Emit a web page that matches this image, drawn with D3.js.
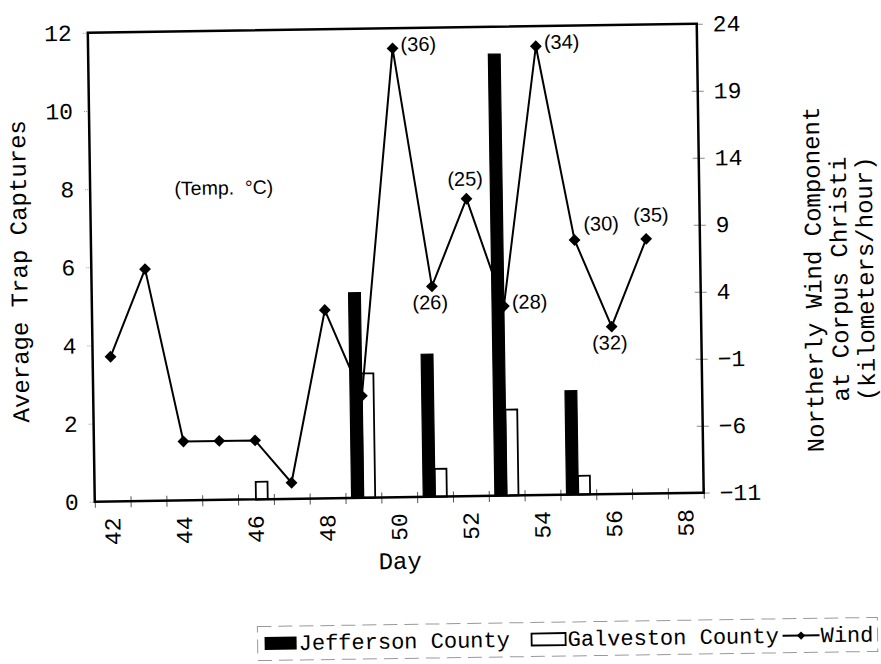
<!DOCTYPE html>
<html>
<head>
<meta charset="utf-8">
<script src="https://cdn.jsdelivr.net/npm/d3@7"></script>
<style>
    body { margin: 0; background: #fff; }
    svg { display: block; }
</style>
</head>
<body>
<div id="chartContainer"></div>
<script>
// categories (day) and the two trap-capture series, one value per day
const days = [42, 43, 44, 45, 46, 47, 48, 49, 50, 51, 52, 53, 54, 55, 56, 57, 58];
const jefferson = [0, 0, 0, 0, 0, 0, 0, 5.25, 0, 3.65, 0, 11.3, 0, 2.66, 0, 0, 0];
const galveston = [0, 0, 0, 0, 0.45, 0, 0, 3.18, 0, 0.71, 0, 2.2, 0, 0.48, 0, 0, 0];

// wind component (km/h) on the right axis
const windDays = [42, 43, 44, 45, 46, 47, 48, 49, 50, 51, 52, 53, 54, 55, 56, 57];
const wind = [-0.2, 6.3, -6.6, -6.6, -6.6, -9.8, 3.05, -3.4, 22.5, 4.7, 11.2, 3.15, 22.5, 8.0, 1.5, 8.0];

// temperature annotations (deg C)
const tempDays = [50, 51, 52, 53, 54, 55, 56, 57];
const temps = [36, 26, 25, 28, 34, 30, 32, 35];

const leftTicks = [0, 2, 4, 6, 8, 10, 12];
const rightTicks = [-11, -6, -1, 4, 9, 14, 19, 24];
const dayLabels = [42, 44, 46, 48, 50, 52, 54, 56, 58];

function init() {
    const width = 881;
    const height = 664;
    const margin = { top: 28.25, right: 180.75, bottom: 166.75, left: 91.25 };
    const x0 = margin.left, x1 = width - margin.right;
    const y0 = height - margin.bottom, y1 = margin.top;

    const mono = '"Liberation Mono", "Courier New", monospace';
    const sans = '"Liberation Sans", Arial, sans-serif';

    const svg = d3.select('#chartContainer')
        .append('svg')
        .attr('width', width)
        .attr('height', height)
        .attr('viewBox', `0 0 ${width} ${height}`)
        .style('background', '#fff');

    // the printed figure sits slightly tilted on the page
    const g = svg.append('g')
        .attr('transform', `rotate(-0.85, ${(x0 + x1) / 2}, ${(y0 + y1) / 2})`);

    const scX = d3.scaleBand().domain(days).range([x0, x1]).padding(0);
    const scTick = d3.scaleLinear().domain([41.5, 58.5]).range([x0, x1]);
    const scY = d3.scaleLinear().domain([0, 12]).range([y0, y1]);
    const scY2 = d3.scaleLinear().domain([-11, 24]).range([y0, y1]);

    const barW = 11.8;
    const scSeries = d3.scaleBand()
        .domain(['jefferson', 'galveston'])
        .range([scX.bandwidth() / 2 - barW, scX.bandwidth() / 2 + barW]);

    // bars
    const barData = days.map((d, i) => ({ day: d, jefferson: jefferson[i], galveston: galveston[i] }));

    g.append('g')
        .selectAll('rect')
        .data(barData.filter(d => d.galveston > 0))
        .enter()
        .append('rect')
        .attr('x', d => scX(d.day) + scSeries('galveston'))
        .attr('y', d => scY(d.galveston))
        .attr('width', scSeries.bandwidth())
        .attr('height', d => y0 - scY(d.galveston))
        .attr('fill', '#fff')
        .attr('stroke', '#000')
        .attr('stroke-width', 1.8);

    g.append('g')
        .selectAll('rect')
        .data(barData.filter(d => d.jefferson > 0))
        .enter()
        .append('rect')
        .attr('x', d => scX(d.day) + scSeries('jefferson'))
        .attr('y', d => scY(d.jefferson))
        .attr('width', scSeries.bandwidth())
        .attr('height', d => y0 - scY(d.jefferson))
        .attr('fill', '#000')
        .attr('stroke', '#000')
        .attr('stroke-width', 1.2);

    // wind line + diamonds
    const windData = windDays.map((d, i) => ({ day: d, value: wind[i] }));
    const cx = d => scX(d) + scX.bandwidth() / 2;

    const lineMaker = d3.line()
        .x(d => cx(d.day))
        .y(d => scY2(d.value));

    g.append('path')
        .attr('fill', 'none')
        .attr('stroke', '#000')
        .attr('stroke-width', 2)
        .attr('d', lineMaker(windData));

    const diamond = d3.symbol().type(d3.symbolSquare).size(70);
    g.append('g')
        .selectAll('path')
        .data(windData)
        .enter()
        .append('path')
        .attr('d', diamond)
        .attr('transform', d => `translate(${cx(d.day)},${scY2(d.value)}) rotate(45)`)
        .attr('fill', '#000');

    // temperature labels
    const place = {
        right: { dx: 8, dy: -2, anchor: 'start' },
        below: { dx: -2, dy: 18, anchor: 'middle' },
        above: { dx: -1, dy: -18, anchor: 'middle' },
        aboveR: { dx: 5, dy: -22, anchor: 'middle' },
        upright: { dx: 9, dy: -14, anchor: 'start' }
    };
    const tempPlace = { 50: 'right', 51: 'below', 52: 'above', 53: 'right', 54: 'right', 55: 'upright', 56: 'below', 57: 'aboveR' };

    g.append('g')
        .selectAll('text')
        .data(tempDays.map((d, i) => ({ day: d, t: temps[i] })))
        .enter()
        .append('text')
        .attr('x', d => cx(d.day) + place[tempPlace[d.day]].dx)
        .attr('y', d => scY2(wind[windDays.indexOf(d.day)]) + place[tempPlace[d.day]].dy + 5)
        .attr('text-anchor', d => place[tempPlace[d.day]].anchor)
        .style('font', `20px ${sans}`)
        .text(d => `(${d.t})`);

    g.append('text')
        .attr('x', 225)
        .attr('y', 192)
        .attr('text-anchor', 'middle')
        .style('font', `19.5px ${sans}`)
        .style('white-space', 'pre')
        .text('(Temp.  \u00B0C)');

    // ticks: left
    const yAxis = d3.axisLeft(scY).tickValues(leftTicks).tickSize(6).tickPadding(10);
    const gy = g.append('g').attr('transform', `translate(${x0},0)`).call(yAxis);
    gy.select('.domain').remove();
    gy.selectAll('.tick line').attr('stroke', '#999').attr('stroke-dasharray', '1,1');
    gy.selectAll('.tick text').style('font', `23px ${mono}`).attr('fill', '#000');

    // ticks: right
    const yAxis2 = d3.axisRight(scY2).tickValues(rightTicks).tickSize(6).tickPadding(10);
    const gy2 = g.append('g').attr('transform', `translate(${x1},0)`).call(yAxis2);
    gy2.select('.domain').remove();
    gy2.selectAll('.tick line').attr('x1', -6).attr('stroke', '#888');
    gy2.selectAll('.tick text').style('font', `23px ${mono}`).attr('fill', '#000');

    // ticks: bottom, marks at category boundaries
    const xTicks = d3.axisBottom(scTick).tickValues(d3.range(41.5, 59, 1)).tickSize(6).tickFormat('');
    const gx = g.append('g').attr('transform', `translate(0,${y0})`).call(xTicks);
    gx.select('.domain').remove();
    gx.selectAll('.tick line').attr('y1', -5).attr('stroke', '#555');

    const xAxis = d3.axisBottom(scX).tickValues(dayLabels).tickSize(0);
    const gx2 = g.append('g').attr('transform', `translate(0,${y0})`).call(xAxis);
    gx2.select('.domain').remove();
    gx2.selectAll('.tick text')
        .style('font', `23px ${mono}`)
        .attr('fill', '#000')
        .attr('text-anchor', 'end')
        .attr('transform', 'rotate(-90)')
        .attr('x', -16)
        .attr('y', 0)
        .attr('dy', '0.32em');

    // plot frame
    g.append('rect')
        .attr('x', x0).attr('y', y1)
        .attr('width', x1 - x0).attr('height', y0 - y1)
        .attr('fill', 'none')
        .attr('stroke', '#000')
        .attr('stroke-width', 2.5);

    // axis titles
    g.append('text')
        .attr('transform', `translate(27,${(y0 + y1) / 2 + 3}) rotate(-90)`)
        .attr('text-anchor', 'middle')
        .style('font', `24px ${mono}`)
        .text('Average Trap Captures');

    const rightTitle = ['Northerly Wind Component', 'at Corpus Christi', '(kilometers/hour)'];
    g.append('g')
        .selectAll('text')
        .data(rightTitle)
        .enter()
        .append('text')
        .attr('transform', (d, i) => `translate(${821 + i * 26},${(y0 + y1) / 2 + 23}) rotate(-90)`)
        .attr('text-anchor', 'middle')
        .style('font', `24px ${mono}`)
        .text(d => d);

    g.append('text')
        .attr('x', (x0 + x1) / 2)
        .attr('y', 569)
        .attr('text-anchor', 'middle')
        .style('font', `24px ${mono}`)
        .text('Day');

    // legend
    const lgFont = `22px ${mono}`;
    const lg = g.append('g').attr('transform', 'translate(0,641.5)');
    lg.append('rect')
        .attr('x', 252).attr('y', -17)
        .attr('width', 620).attr('height', 34)
        .attr('fill', 'none')
        .attr('stroke', '#999')
        .attr('stroke-width', 1)
        .attr('stroke-dasharray', '14,7');

    lg.append('rect').attr('x', 259).attr('y', -6.5).attr('width', 32).attr('height', 13).attr('fill', '#000');
    lg.append('text').attr('x', 293).attr('y', 0).attr('dy', '0.32em')
        .style('font', lgFont).text('Jefferson County');

    lg.append('rect').attr('x', 526).attr('y', -6).attr('width', 34).attr('height', 12)
        .attr('fill', '#fff').attr('stroke', '#000').attr('stroke-width', 1.8);
    lg.append('text').attr('x', 562).attr('y', 0).attr('dy', '0.32em')
        .style('font', lgFont).text('Galveston County');

    lg.append('line').attr('x1', 777).attr('x2', 814).attr('y1', 0).attr('y2', 0)
        .attr('stroke', '#000').attr('stroke-width', 2);
    lg.append('path').attr('d', d3.symbol().type(d3.symbolSquare).size(34))
        .attr('transform', 'translate(795.5,0) rotate(45)').attr('fill', '#000');
    lg.append('text').attr('x', 815).attr('y', 0).attr('dy', '0.32em')
        .style('font', lgFont).text('Wind');
}

init();
</script>
</body>
</html>
